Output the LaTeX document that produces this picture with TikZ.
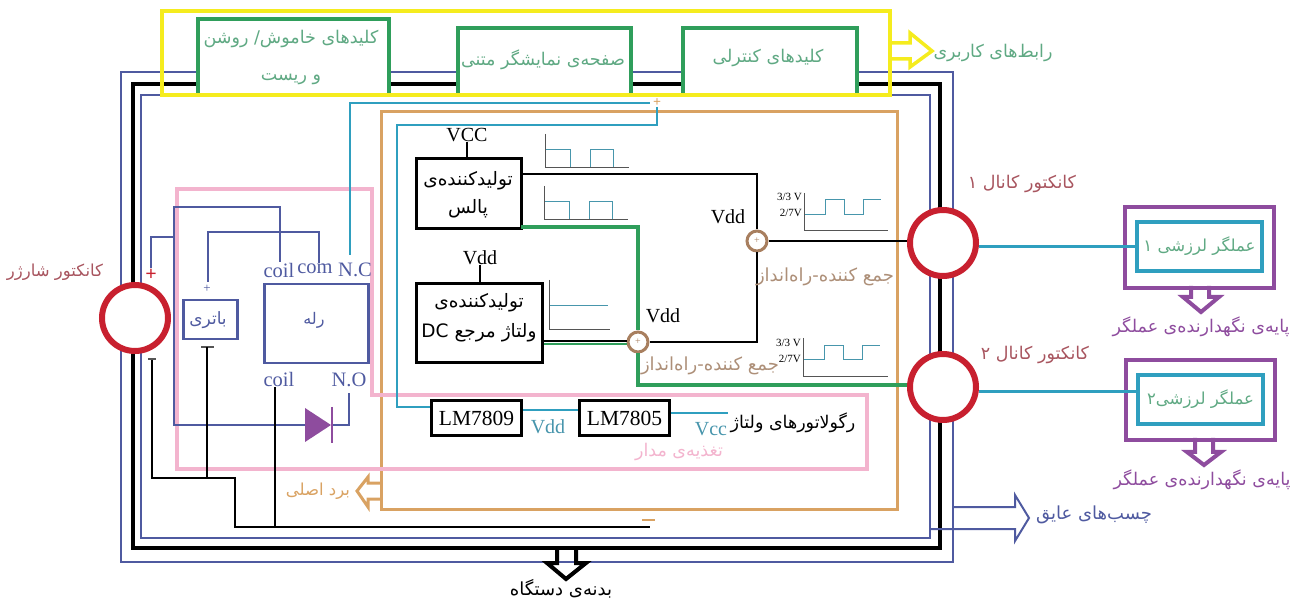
\documentclass[tikz,border=0pt]{standalone}
\usepackage{fontspec}
\setmainfont{Liberation Serif}
\newfontfamily\fa[Script=Arabic]{DejaVu Sans}
\TeXXeTstate=1
\definecolor{fyel}{HTML}{F5EC1E}
\definecolor{fgrn}{HTML}{2F9E5B}
\definecolor{tgrn}{HTML}{5FA983}
\definecolor{fblu}{HTML}{4F5AA0}
\definecolor{fteal}{HTML}{2F9FBF}
\definecolor{forg}{HTML}{D9A262}
\definecolor{fpnk}{HTML}{F3B4CE}
\definecolor{fred}{HTML}{C8202F}
\definecolor{tred}{HTML}{A8555F}
\definecolor{fbrn}{HTML}{A87F5F}
\definecolor{tbrn}{HTML}{AD8F78}
\definecolor{fpur}{HTML}{8E4C9E}
\definecolor{fgry}{HTML}{555555}
\tikzset{
  x=1pt,y=-1pt,
  line join=miter,
  lab/.style={inner sep=0pt,align=center,font=\fa\fontsize{17.5}{37}\selectfont},
  lat/.style={inner sep=0pt,align=center,font=\fontsize{20}{22}\selectfont},
  rl/.style={inner sep=0pt,text=fblu,font=\fontsize{20.5}{22}\selectfont},
  volt/.style={inner sep=0pt,anchor=east,font=\fontsize{11}{12}\selectfont},
  greenbox/.style={draw=fgrn,line width=4pt,fill=white},
  blackbox/.style={draw=black,line width=3pt,fill=white},
  bluebox/.style={draw=fblu,line width=2.5pt},
  conn/.style={draw=fred,line width=6pt,circle,fill=white,minimum size=66pt,inner sep=0pt},
  adder/.style={draw=fbrn,line width=3pt,circle,fill=white,minimum size=20pt,inner sep=0pt,text=fbrn,font=\fontsize{10}{10}\selectfont},
  axisl/.style={draw=fgry,line width=1pt},
  wave/.style={draw=fteal!70!gray,line width=1pt},
}
\begin{document}
\begin{tikzpicture}
\useasboundingbox (0,0) rectangle (1299,601);
% frames
\draw[fblu,line width=2pt] (121,72) rectangle (953,562);
\draw[black,line width=4pt] (133,84) rectangle (940,548);
\draw[fblu,line width=2pt] (141,95) rectangle (930,538);
% bottom black arrow
\draw[black,line width=4pt] (557,548) -- (557,563) -- (547,563) -- (566,579) -- (586,563) -- (576,563) -- (576,548);
% top bar
\node[greenbox,minimum width=191pt,minimum height=76pt,inner sep=0pt,anchor=north west] (kb1) at (196,17) {};
\node[greenbox,minimum width=173pt,minimum height=67pt,inner sep=0pt,anchor=north west] (kb2) at (456,26) {};
\node[greenbox,minimum width=174pt,minimum height=67pt,inner sep=0pt,anchor=north west] (kb3) at (681,26) {};
\node[lab,text=tgrn] at (291,57) {\beginR کلیدهای خاموش/ روشن\endR\\\beginR و ریست\endR};
\node[lab,text=tgrn] at (543,60) {\beginR صفحه‌ی نمایشگر متنی\endR};
\node[lab,text=tgrn] at (768,58) {\beginR کلیدهای کنترلی\endR};
\draw[fyel,line width=4pt] (162,11) rectangle (890,95);
\draw[fyel,line width=3.5pt] (890,43) -- (910,43) -- (910,33) -- (932,51) -- (910,67) -- (910,59) -- (890,59);
\node[lab,text=tgrn] at (993,53) {\beginR رابط‌های کاربری\endR};
% orange board
\draw[forg,line width=3pt] (381,112) rectangle (897,509);
\draw[forg,line width=3pt] (381,483) -- (368,483) -- (368,477) -- (357,491) -- (368,507) -- (368,499) -- (381,499);
\node[lab,text=forg,font=\fa\fontsize{16.5}{20}\selectfont] at (318,491) {\beginR برد اصلی\endR};
% pink box
\draw[fpnk,line width=4pt] (177,189) -- (372,189) -- (372,395) -- (867,395) -- (867,469) -- (177,469) -- cycle;
% teal power lines
\coordinate (ncup) at (350,103);
\coordinate (ncend) at (650,103);
\coordinate (ptop) at (657,107);
\draw[fteal,line width=2.5pt] (350,255) -- (ncup) -- (ncend);
\draw[fteal,line width=2.5pt] (ptop) -- (657,125) -- (397,125) -- (397,407) -- (430,407);
\node[inner sep=0pt,text=forg,font=\fontsize{14}{14}\selectfont\bfseries] at (657,103) {+};
% relay
\node[bluebox,minimum width=104pt,minimum height=79pt,inner sep=0pt,anchor=north west] (rel) at (263,283) {};
\node[lab,text=fblu,font=\fa\fontsize{16}{20}\selectfont] at (314,320) {\beginR رله\endR};
\node[bluebox,minimum width=54pt,minimum height=39pt,inner sep=0pt,anchor=north west] (bat) at (182,299) {};
\node[lab,text=fblu,font=\fa\fontsize{17}{20}\selectfont] at (208,320) {\beginR باتری\endR};
\node[inner sep=0pt,text=fblu,font=\fontsize{13}{13}\selectfont] at (207,289) {+};
\node[rl] at (279,270) {coil};
\node[rl] at (315,269) {com};
\node[rl] at (355,270) {N.C};
\node[rl] at (279,379) {coil};
\node[rl] at (349,380) {N.O};
\draw[fblu,line width=2pt] (208,282) -- (208,232) -- (319,232) -- (319,263);
\draw[fblu,line width=2pt] (151,268) -- (151,237) -- (174,237);
\draw[fblu,line width=2pt] (280,262) -- (280,207) -- (174,207) -- (174,425) -- (305,425);
\draw[fblu,line width=2pt] (332,425) -- (349,425) -- (349,393);
\node[inner sep=0pt,text=fred,font=\fontsize{20}{20}\selectfont\bfseries] at (151,275) {+};
% diode
\fill[fpur] (305,408) -- (331,425) -- (305,442) -- cycle;
\draw[fpur,line width=2pt] (332,407) -- (332,443);
% ground lines
\draw[fgry,line width=2pt] (201,347) -- (214,347);
\draw[black,line width=2pt] (207,347) -- (207,478);
\draw[fgry,line width=1.5pt] (148,359) -- (156,359);
\draw[black,line width=2pt] (152,360) -- (152,478) -- (235,478) -- (235,527) -- (650,527);
\draw[black,line width=2pt] (275,387) -- (275,527);
\draw[forg,line width=2pt] (642,520) -- (655,520);
% connectors
\node[conn] (c0) at (135,318) {};
\node[conn] (c1) at (943,243) {};
\node[conn] (c2) at (943,387) {};
\node[lab,text=tred] at (1022,184) {\beginR کانکتور کانال ۱\endR};
\node[lab,text=tred] at (1035,355) {\beginR کانکتور کانال ۲\endR};
\node[lab,text=tred,font=\fa\fontsize{16.5}{20}\selectfont] at (55,272) {\beginR کانکتور شارژر\endR};
% blocks
\node[blackbox,minimum width=105pt,minimum height=70pt,inner sep=0pt,anchor=north west] (pg) at (415,157) {};
\node[lab,font=\fa\fontsize{18.5}{28}\selectfont] at (468,195) {\beginR تولیدکننده‌ی\endR\\\beginR پالس\endR};
\node[blackbox,minimum width=126pt,minimum height=79pt,inner sep=0pt,anchor=north west] (dc) at (415,282) {};
\node[lab,font=\fa\fontsize{18.5}{30}\selectfont] at (479,318) {\beginR تولیدکننده‌ی\endR\\\beginR ولتاژ مرجع \beginL DC\endL\endR};
\node[lat] (vcc) at (467,135) {VCC};
\node[lat] (vdd0) at (480,258) {Vdd};
\draw[black,line width=2pt] (vcc.south) -- (pg.north -| vcc);
\draw[black,line width=2pt] (vdd0.south) -- (dc.north -| vdd0);
\node[lat] at (728,217) {Vdd};
\node[lat] at (663,316) {Vdd};
\node[adder] (a1) at (757,241) {+};
\node[adder] (a2) at (638,342) {+};
\draw[fgrn,line width=3.5pt] (521,227) -- (638,227) -- (a2.north);
\draw[fgrn,line width=3.5pt] (a2.south) -- (638,385) -- (c2.west |- 0,385);
\draw[fgrn,line width=2.5pt] (dc.east |- 0,344) -- (a2.west |- 0,344);
\draw[black,line width=2.5pt] (dc.east |- 0,341) -- (a2.west |- 0,341);
\draw[black,line width=2.5pt] (pg.east |- 0,174) -- (757,174) -- (a1.north);
\draw[black,line width=2.5pt] (a1.south) -- (757,342) -- (a2.east);
\draw[black,line width=2pt] (a1.east) -- (a1.east -| c1.west);
\node[lab,text=tbrn,font=\fa\fontsize{18}{20}\selectfont] at (825,277) {\beginR جمع کننده-راه‌انداز\endR};
\node[lab,text=tbrn,font=\fa\fontsize{18}{20}\selectfont] at (710,366) {\beginR جمع کننده-راه‌انداز\endR};
% LM
\node[blackbox,minimum width=90pt,minimum height=35pt,inner sep=0pt,anchor=north west,font=\fontsize{21.5}{22}\selectfont] (l9) at (430,399) {LM7809};
\node[blackbox,minimum width=90pt,minimum height=35pt,inner sep=0pt,anchor=north west,font=\fontsize{21.5}{22}\selectfont] (l5) at (578,399) {LM7805};
\draw[fteal,line width=2.5pt] (l9.east |- 0,410) -- (l5.west |- 0,410);
\coordinate (vccend) at (728,413);
\draw[fteal,line width=2.5pt] (l5.east |- 0,413) -- (vccend);
\node[lat,text=fteal!70!gray] at (548,427) {Vdd};
\node[lat,text=fteal!70!gray] at (711,429) {Vcc};
\node[lab] at (793,423) {\beginR رگولاتورهای ولتاژ\endR};
\node[lab,text=fpnk] at (679,452) {\beginR تغذیه‌ی مدار\endR};
% graphs
\draw[wave] (545,150) -- (570,150) -- (570,168) -- (590,168) -- (590,150) -- (613,150) -- (613,168);
\draw[axisl] (545,134) -- (545,168) -- (629,168);
\draw[wave] (544,202) -- (569,202) -- (569,220) -- (589,220) -- (589,202) -- (612,202) -- (612,220);
\draw[axisl] (544,186) -- (544,220) -- (628,220);
\draw[wave] (549,306) -- (608,306);
\draw[axisl] (549,280) -- (549,330) -- (610,330);
\draw[wave] (804,215) -- (825,215) -- (825,200) -- (844,200) -- (844,215) -- (863,215) -- (863,200) -- (881,200);
\draw[axisl] (804,193) -- (804,231) -- (888,231);
\draw[wave] (803,360) -- (824,360) -- (824,346) -- (843,346) -- (843,360) -- (862,360) -- (862,346) -- (880,346);
\draw[axisl] (803,338) -- (803,377) -- (888,377);
\node[volt] at (802,197) {3/3 V};
\node[volt] at (802,213) {2/7V};
\node[volt] at (801,343) {3/3 V};
\node[volt] at (801,359) {2/7V};
% actuators
\draw[fpur,line width=4pt] (1191,286) -- (1191,297) -- (1183,297) -- (1201,312) -- (1219,297) -- (1209,297) -- (1209,286);
\draw[fpur,line width=4pt] (1195,438) -- (1195,452) -- (1187,452) -- (1204,465) -- (1221,452) -- (1213,452) -- (1213,438);
\node[draw=fpur,line width=4pt,minimum width=149pt,minimum height=81pt,inner sep=0pt,anchor=north west] (m1) at (1123,205) {};
\node[draw=fpur,line width=4pt,minimum width=149pt,minimum height=80pt,inner sep=0pt,anchor=north west] (m2) at (1124,358) {};
\node[draw=fteal,line width=4pt,minimum width=125pt,minimum height=49pt,inner sep=0pt,anchor=north west] (i1) at (1135,220) {};
\node[draw=fteal,line width=4pt,minimum width=125pt,minimum height=49pt,inner sep=0pt,anchor=north west] (i2) at (1136,373) {};
\node[lab,text=tgrn,font=\fa\fontsize{16.5}{20}\selectfont] at (i1) {\beginR عملگر لرزشی ۱\endR};
\node[lab,text=tgrn,font=\fa\fontsize{16.5}{20}\selectfont] at (i2) {\beginR عملگر لرزشی۲\endR};
\draw[fteal,line width=3pt] (c1.east |- i1) -- (i1.west);
\draw[fteal,line width=3pt] (c2.east |- 0,392) -- (i2.west |- 0,392);
\node[lab,text=fpur] at (1201,327) {\beginR پایه‌ی نگهدارنده‌ی عملگر\endR};
\node[lab,text=fpur] at (1202,480) {\beginR پایه‌ی نگهدارنده‌ی عملگر\endR};
% insulation
\draw[fblu,line width=2pt] (930,529) -- (1015,529) -- (1015,541) -- (1029,518) -- (1015,495) -- (1015,507) -- (953,507);
\node[lab,text=fblu,font=\fa\fontsize{18}{20}\selectfont] at (1094,515) {\beginR چسب‌های عایق\endR};
\node[lab,font=\fa\fontsize{18}{20}\selectfont] at (561,589) {\beginR بدنه‌ی دستگاه\endR};
\end{tikzpicture}
\end{document}
